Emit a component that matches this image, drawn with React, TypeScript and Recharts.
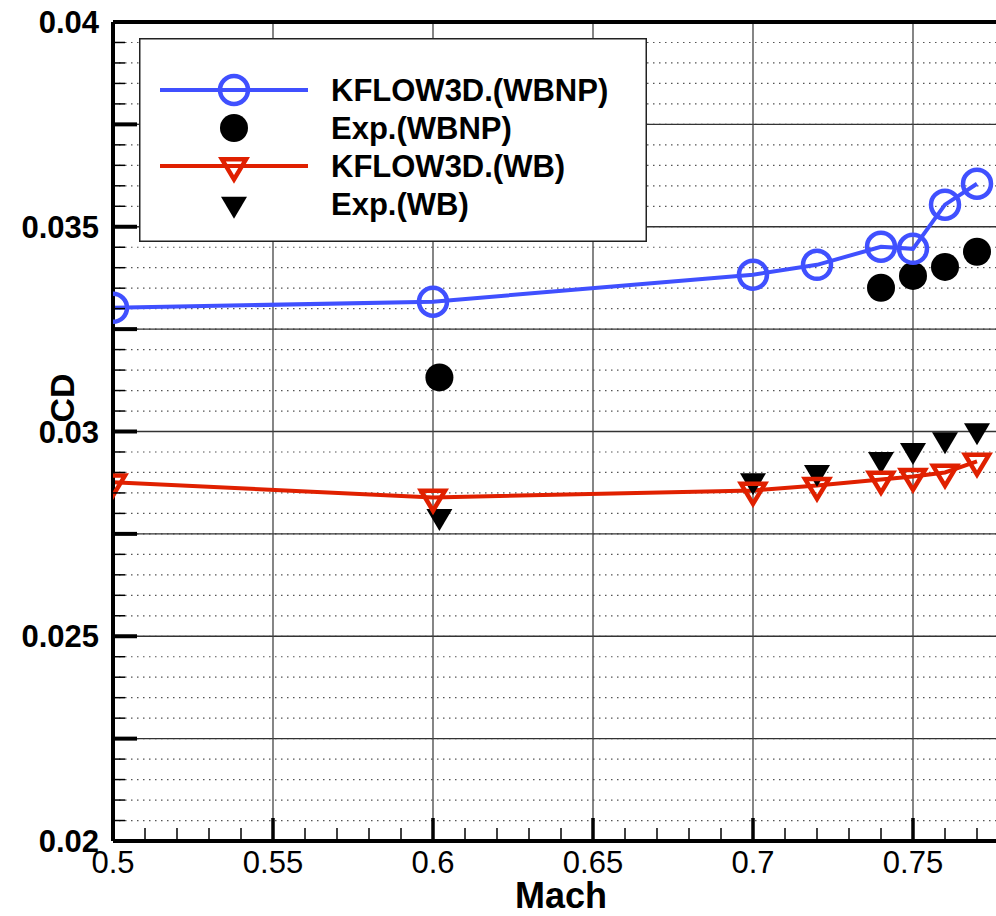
import {
  CartesianGrid,
  ComposedChart,
  Legend,
  Line,
  ReferenceLine,
  Scatter,
  XAxis,
  YAxis,
} from "recharts";

const machSim = [0.5, 0.6, 0.7, 0.72, 0.74, 0.75, 0.76, 0.77];
const cdWbnpSim = [0.03302, 0.03317, 0.03383, 0.03407, 0.03451, 0.03446, 0.03554, 0.03605];
const cdWbSim = [0.02876, 0.02839, 0.02856, 0.02868, 0.02883, 0.0289, 0.029, 0.02927];

const machExpWbnp = [0.602, 0.74, 0.75, 0.76, 0.77];
const cdWbnpExp = [0.03132, 0.03351, 0.0338, 0.03402, 0.03439];

const machExpWb = [0.602, 0.7, 0.72, 0.74, 0.75, 0.76, 0.77];
const cdWbExp = [0.02793, 0.0288, 0.029, 0.02932, 0.02954, 0.0298, 0.03002];

const xTicks = Array.from({ length: 28 }, (_, i) => +(0.5 + i * 0.01).toFixed(2));
const xMajor = [0.55, 0.6, 0.65, 0.7, 0.75];
const yTicks = Array.from({ length: 41 }, (_, i) => +(0.02 + i * 0.0005).toFixed(4));
const yMajor = [0.0225, 0.025, 0.0275, 0.03, 0.0325, 0.035, 0.0375];

const BLUE = "#4050ff";
const RED = "#e02000";
const FONT = "'Liberation Sans', Arial, Helvetica, sans-serif";

const toRows = (xs: number[], ys: number[]) => xs.map((mach, i) => ({ mach, cd: ys[i] }));

const wbnpSimRows = toRows(machSim, cdWbnpSim);
const wbSimRows = toRows(machSim, cdWbSim);
const wbnpExpRows = toRows(machExpWbnp, cdWbnpExp);
const wbExpRows = toRows(machExpWb, cdWbExp);

function HollowCircle({ cx, cy }: { cx?: number; cy?: number }) {
  if (cx == null || cy == null) return null;
  return <circle cx={cx} cy={cy} r={14} fill="none" stroke={BLUE} strokeWidth={4.5} />;
}

function FilledCircle({ cx, cy }: { cx?: number; cy?: number }) {
  if (cx == null || cy == null) return null;
  return <circle cx={cx} cy={cy} r={14} fill="#000" />;
}

function downTriangle(cx: number, cy: number, w: number, h: number) {
  return `M${cx - w / 2},${cy - h / 3} L${cx + w / 2},${cy - h / 3} L${cx},${cy + (2 * h) / 3} Z`;
}

function HollowTriangle({ cx, cy }: { cx?: number; cy?: number }) {
  if (cx == null || cy == null) return null;
  return (
    <path d={downTriangle(cx, cy, 24, 20)} fill="none" stroke={RED} strokeWidth={4.5} strokeLinejoin="miter" />
  );
}

function FilledTriangle({ cx, cy }: { cx?: number; cy?: number }) {
  if (cx == null || cy == null) return null;
  return <path d={downTriangle(cx, cy, 26, 22)} fill="#000" />;
}

function XTick({ x, y, payload }: any) {
  const v = payload.value as number;
  const major = Math.round(v * 100) % 5 === 0;
  return (
    <g>
      <line
        x1={x}
        x2={x}
        y1={y}
        y2={y - (major ? 23 : 13)}
        stroke="#000"
        strokeWidth={major ? 3.5 : 1.5}
      />
      {major && (
        <text x={x} y={y + 32} textAnchor="middle" fontFamily={FONT} fontSize={31} fill="#000">
          {String(v)}
        </text>
      )}
    </g>
  );
}

function YTick({ x, y, payload }: any) {
  const v = payload.value as number;
  const major = Math.round(v * 10000) % 25 === 0;
  const labeled = Math.round(v * 10000) % 50 === 0;
  return (
    <g>
      <line
        x1={x}
        x2={x + (major ? 24 : 12)}
        y1={y}
        y2={y}
        stroke="#000"
        strokeWidth={major ? 4 : 1.5}
      />
      {labeled && (
        <text
          x={x - 14}
          y={y}
          dy={11}
          textAnchor="end"
          fontFamily={FONT}
          fontWeight="bold"
          fontSize={31}
          fill="#000"
        >
          {String(v)}
        </text>
      )}
    </g>
  );
}

const legendItems = [
  { label: "KFLOW3D.(WBNP)", line: BLUE, Marker: HollowCircle },
  { label: "Exp.(WBNP)", line: null, Marker: FilledCircle },
  { label: "KFLOW3D.(WB)", line: RED, Marker: HollowTriangle },
  { label: "Exp.(WB)", line: null, Marker: FilledTriangle },
];

function LegendBox() {
  return (
    <svg width={508} height={204} style={{ display: "block" }}>
      <rect x={0.75} y={0.75} width={506.5} height={202.5} fill="#fff" stroke="#222" strokeWidth={1.5} />
      {legendItems.map((item, i) => {
        const cy = 52 + i * 38;
        const Marker = item.Marker;
        return (
          <g key={item.label}>
            {item.line && <line x1={21} x2={169} y1={cy} y2={cy} stroke={item.line} strokeWidth={4} />}
            <Marker cx={95} cy={cy} />
            <text
              x={192}
              y={cy}
              dy={11}
              fontFamily={FONT}
              fontWeight="bold"
              fontSize={31}
              fill="#000"
            >
              {item.label}
            </text>
          </g>
        );
      })}
    </svg>
  );
}

function CdLabel() {
  return (
    <text
      x={62}
      y={398}
      dy={12}
      transform="rotate(-90, 62, 398)"
      textAnchor="middle"
      fontFamily={FONT}
      fontWeight="bold"
      fontSize={34}
      fill="#000"
    >
      CD
    </text>
  );
}

export default function App() {
  return (
    <div
      style={{
        position: "absolute",
        left: 0,
        top: 0,
        width: 996,
        height: 916,
        overflow: "hidden",
        background: "#fff",
      }}
    >
      <ComposedChart width={1009} height={916} margin={{ top: 22, right: 0, bottom: 0, left: 0 }}>
        <CartesianGrid
          vertical={false}
          stroke="#555"
          strokeWidth={1.2}
          strokeDasharray="1.5 4.5"
        />
        {yMajor.map((v) => (
          <ReferenceLine key={`y${v}`} y={v} stroke="#333" strokeWidth={1.3} />
        ))}
        {xMajor.map((v) => (
          <ReferenceLine key={`x${v}`} x={v} stroke="#444" strokeWidth={1.3} />
        ))}
        <ReferenceLine y={0.04} stroke="#000" strokeWidth={4} />
        <XAxis
          dataKey="mach"
          type="number"
          domain={[0.5, 0.78]}
          ticks={xTicks}
          interval={0}
          allowDataOverflow
          height={75}
          tickSize={0}
          tickMargin={0}
          tickLine={false}
          tick={<XTick />}
          axisLine={{ stroke: "#000", strokeWidth: 4 }}
          label={{
            value: "Mach",
            position: "insideBottom",
            offset: 8,
            fontFamily: FONT,
            fontWeight: "bold",
            fontSize: 36,
            fill: "#000",
          }}
        />
        <YAxis
          dataKey="cd"
          type="number"
          domain={[0.02, 0.04]}
          ticks={yTicks}
          interval={0}
          allowDataOverflow
          width={113}
          tickSize={0}
          tickMargin={0}
          tickLine={false}
          tick={<YTick />}
          axisLine={{ stroke: "#000", strokeWidth: 4 }}
          label={<CdLabel />}
        />
        <Legend
          layout="horizontal"
          align="center"
          verticalAlign="middle"
          content={() => <LegendBox />}
          wrapperStyle={{ position: "absolute", left: 139, top: 38, width: 508, height: 204 }}
        />
        <Line
          data={wbnpSimRows}
          dataKey="cd"
          stroke={BLUE}
          strokeWidth={4}
          dot={(p: any) => <HollowCircle key={`b${p.index}`} cx={p.cx} cy={p.cy} />}
          activeDot={false}
          isAnimationActive={false}
          type="linear"
        />
        <Line
          data={wbSimRows}
          dataKey="cd"
          stroke={RED}
          strokeWidth={4}
          dot={(p: any) => <HollowTriangle key={`r${p.index}`} cx={p.cx} cy={p.cy} />}
          activeDot={false}
          isAnimationActive={false}
          type="linear"
        />
        <Scatter
          data={wbnpExpRows}
          dataKey="cd"
          shape={(p: any) => <FilledCircle cx={p.cx} cy={p.cy} />}
          isAnimationActive={false}
        />
        <Scatter
          data={wbExpRows}
          dataKey="cd"
          shape={(p: any) => <FilledTriangle cx={p.cx} cy={p.cy} />}
          isAnimationActive={false}
        />
      </ComposedChart>
    </div>
  );
}
